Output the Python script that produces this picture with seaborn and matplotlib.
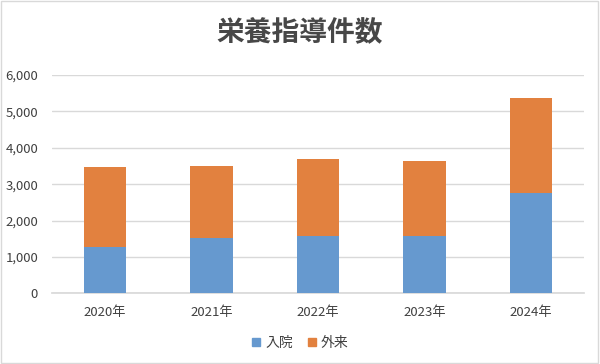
import pandas as pd
import seaborn as sns
import matplotlib.pyplot as plt
from matplotlib.lines import Line2D
from matplotlib.patches import Rectangle

years = ["2020年", "2021年", "2022年", "2023年", "2024年"]
inpatient = [1260, 1530, 1580, 1580, 2750]   # 入院
outpatient = [2200, 1970, 2120, 2070, 2610]  # 外来

blue = "#6699CF"
orange = "#E2813F"

df = pd.DataFrame({"year": years, "入院": inpatient, "外来": outpatient})
df["total"] = df["入院"] + df["外来"]

sns.set_theme(style="white")
plt.rcParams["font.family"] = ["Noto Sans CJK JP", "DejaVu Sans"]

fig = plt.figure(figsize=(6, 3.64), dpi=100)
ax = fig.add_axes([52 / 600, 1 - 293.3 / 364, 532 / 600, 218.3 / 364])

# stacked: draw total in orange, inpatient on top of it in blue
sns.barplot(data=df, x="year", y="total", color=orange, width=0.4,
            saturation=1, linewidth=0, ax=ax, zorder=3)
sns.barplot(data=df, x="year", y="入院", color=blue, width=0.4,
            saturation=1, linewidth=0, ax=ax, zorder=3)

ax.set_ylim(0, 6000)
ax.set_xlim(-0.5, 4.5)
ax.set_yticks(range(0, 6001, 1000))
ax.set_yticklabels([f"{v:,}" for v in range(0, 6001, 1000)])
ax.yaxis.grid(True, color="#D9D9D9", linewidth=1, zorder=0)
ax.set_axisbelow(True)
for s in ["top", "right", "left"]:
    ax.spines[s].set_visible(False)
ax.spines["bottom"].set_color("#D9D9D9")
ax.tick_params(axis="both", length=0, labelsize=9.5, colors="#404040")
ax.tick_params(axis="y", pad=10)
ax.tick_params(axis="x", pad=9)
ax.set_xlabel("")
ax.set_ylabel("")

fig.suptitle("栄養指導件数", y=1 - 33 / 364, va="center", fontsize=20,
             fontweight="bold", color="#474747")

handles = [Line2D([], [], marker="s", linestyle="", markersize=6,
                  markerfacecolor=c, markeredgecolor=c) for c in (blue, orange)]
fig.legend(handles, ["入院", "外来"], loc="center", ncol=2,
           bbox_to_anchor=(0.5, 1 - 343 / 364), frameon=False,
           fontsize=10, labelcolor="#404040", handlelength=0.7,
           handletextpad=0.3, columnspacing=1.0)

fig.patches.append(Rectangle((0.002, 0.004), 0.994, 0.992, transform=fig.transFigure,
                             fill=False, edgecolor="#D9D9D9", linewidth=1))

fig.savefig("out.png", dpi=100)
